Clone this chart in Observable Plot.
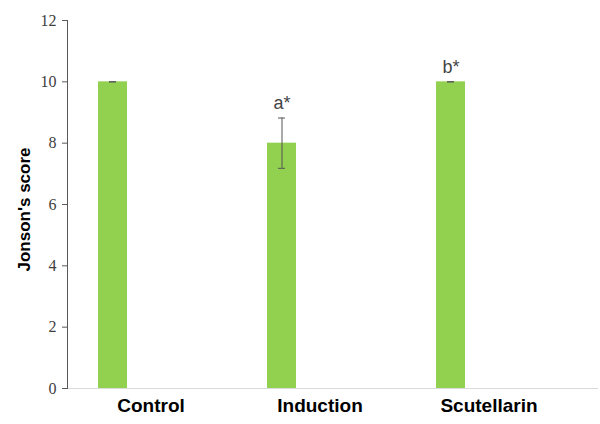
<!DOCTYPE html>
<html>
<head>
<meta charset="utf-8">
<script src="https://cdn.jsdelivr.net/npm/d3@7"></script>
<script src="https://cdn.jsdelivr.net/npm/@observablehq/plot@0.6"></script>
<style>
  html, body { margin: 0; padding: 0; background: #fff; }
  #chart svg { display: block; }
</style>
</head>
<body>
<div id="chart"></div>
<script>
const categories = ["Control", "Induction", "Scutellarin"];
const scores = [10, 8, 10];
const errors = [0, 0.82, 0];
const letters = ["", "a*", "b*"];
const yTicks = [0, 2, 4, 6, 8, 10, 12];
const yLabel = "Jonson's score";

const data = categories.map((c, i) => ({
  category: c, score: scores[i], err: errors[i], label: letters[i]
}));

const chart = Plot.plot({
  width: 600,
  height: 424,
  marginLeft: 67,
  marginRight: 2,
  marginTop: 20,
  marginBottom: 36,
  style: { background: "#fff" },
  x: { type: "band", domain: categories, range: [98, 465.5], paddingInner: 0.829, paddingOuter: 0 },
  y: { domain: [0, 12] },
  marks: [
    Plot.ruleY([0], { stroke: "#d9d9d9", strokeWidth: 1 }),
    Plot.barY(data, { x: "category", y: "score", fill: "#92D050" }),
    Plot.ruleX(data, { x: "category", y1: d => d.score - d.err, y2: d => d.score + d.err, stroke: "#555", strokeWidth: 1 }),
    Plot.tickY(data, { x: "category", y: d => d.score + d.err, stroke: "#555", inset: 11 }),
    Plot.tickY(data, { x: "category", y: d => d.score - d.err, stroke: "#555", inset: 11 }),
    Plot.text(data, { x: "category", y: d => d.score + d.err, text: "label", lineAnchor: "bottom", dy: -9, fontSize: 18, fill: "#444", fontFamily: "Liberation Sans" }),
    Plot.frame({ anchor: "left", stroke: "#595959" }),
    Plot.axisY({ ticks: yTicks, tickSize: 5, tickPadding: 6, fontSize: 16, fontFamily: "Liberation Serif", color: "#404040", stroke: "#595959", label: null }),
    Plot.axisX({ tickSize: 0, tickPadding: 10, dx: 38, fontSize: 19, fontWeight: "bold", fontFamily: "Liberation Sans", color: "#000", label: null }),
    Plot.text([yLabel], { frameAnchor: "left", rotate: -90, dx: -43, dy: 5, text: d => d, textAnchor: "middle", lineAnchor: "middle", fontSize: 17, fontWeight: "bold", fontFamily: "Liberation Sans", fill: "#000" })
  ]
});
document.getElementById("chart").appendChild(chart);
</script>
</body>
</html>
